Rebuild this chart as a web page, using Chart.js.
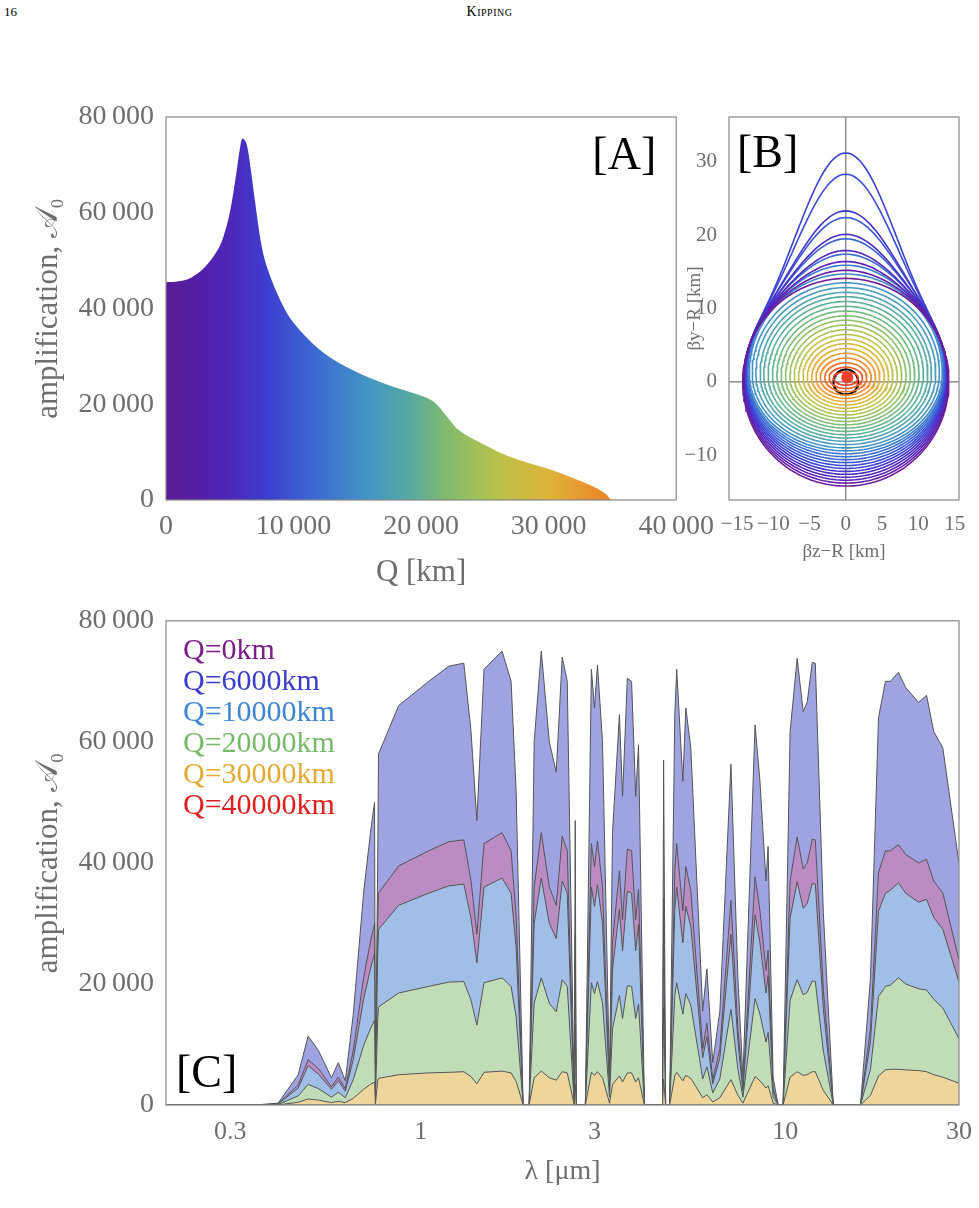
<!DOCTYPE html>
<html><head><meta charset="utf-8">
<script src="https://cdn.jsdelivr.net/npm/chart.js@4"></script>
<style>
body{margin:0;background:#fff;width:979px;height:1208px;position:relative;overflow:hidden;font-family:"Liberation Serif",serif;}
canvas{position:absolute;}
#pg{position:absolute;left:4px;top:4px;font-size:13px;}
#hd{position:absolute;left:0;width:979px;top:4px;text-align:center;font-size:14px;font-variant:small-caps;letter-spacing:0.5px;}
</style></head><body>
<div id="pg">16</div><div id="hd">Kipping</div>
<div style="position:absolute;left:680px;top:95px;width:310px;height:500px"><canvas id="cB"></canvas></div>
<div style="position:absolute;left:0;top:95px;width:716px;height:500px"><canvas id="cA"></canvas></div>
<div style="position:absolute;left:0;top:600px;width:979px;height:592px"><canvas id="cC"></canvas></div>
<script>
// ---------- Panel A data ----------
const Qkm =  [0,1000,2000,3000,4000,4500,5000,5500,5800,6000,6300,6600,7000,7500,8000,9000,10000,12000,14000,16000,18000,20000,21000,22000,23000,25000,27000,30000,32000,33500,34500,35000,40000];
const ampA = [45500,45700,46500,48500,52000,55000,60000,68000,73500,75500,74500,70000,62000,53000,48000,41500,37000,31500,28000,25500,23500,21800,20500,17500,14500,11500,9000,6500,4500,2800,1200,0,0];
const xTicksA = [0,10000,20000,30000,40000];
const yTicks = [0,20000,40000,60000,80000];
// ---------- Panel B data ----------
const contourBottom = [-14.2,-13.8,-13.4,-13.0,-12.6,-12.2,-11.8,-11.4,-11.0,-10.6,-10.2,-9.8,-9.4,
  -9.0,-8.55,-8.1,-7.65,-7.2,-6.75,-6.3,-5.85,-5.4,-4.95,-4.5,-4.05,-3.6,-3.15,-2.7,-2.25,-1.8,-1.35,-0.9,-0.45];
const contourTop = [14.1,15.2,16.4,17.9,20.1,23.3,31.2,28.3,22.4,19.5,17.4,15.9,14.7,
  13.5,12.85,12.2,11.6,10.95,10.3,9.65,9.0,8.4,7.75,7.1,6.45,5.8,5.2,4.55,3.9,3.25,2.6,2.0,1.35];
const contourHalfWidth = [14.2,14.15,14.1,14.05,14.0,13.95,13.9,13.85,13.8,13.7,13.6,13.5,13.3,
  12.9,12.4,11.8,11.3,10.7,10.1,9.5,8.9,8.3,7.7,7.1,6.5,5.9,5.3,4.7,4.1,3.5,2.9,2.3,1.7];
const contourMid = [0,0.15,0.3,0.45,0.6,0.75,0.9,1.0,1.1,1.15,1.2,1.2,1.2,
  1.15,1.1,1.05,1.0,0.95,0.9,0.85,0.8,0.75,0.7,0.68,0.66,0.64,0.62,0.6,0.6,0.6,0.6,0.6,0.6];
const contourColor = ['#6a1b9a','#6420a8','#5a24b4','#5028bc','#4a2ec4','#4336cc','#3c42d4','#3a4cd6','#3958d6','#3a64d4','#3b70d2','#3d7cd0','#4088cc',
  '#4592c6','#4a9bbd','#50a3b2','#57aaa6','#5fb09a','#68b58e','#73b982','#80bd76','#8ec06b','#9dc261','#adc357','#bdc24e','#ccbf46','#d9b83f','#e3ad3a','#ea9e35','#ee8c31','#ef762e','#ec5f2c','#e8462a'];
const bTicksX = [-15,-10,-5,0,5,10,15];
const bTicksY = [-10,0,10,20,30];
// ---------- Panel C data ----------
const lam = [0.2,0.35,0.406,0.461,0.491,0.524,0.569,0.594,0.621,0.653,0.697,0.728,0.747,0.751,0.762,0.766,0.870,1.052,1.194,1.313,1.373,1.426,1.492,1.672,1.770,1.827,1.862,1.910,1.984,2.048,2.142,2.254,2.355,2.445,2.524,2.606,2.638,2.655,2.67,2.83,2.94,2.998,3.055,3.154,3.297,3.36,3.51,3.58,3.69,3.79,3.89,3.96,4.11,4.61,4.64,4.70,4.82,4.98,5.04,5.24,5.34,5.51,5.83,5.94,6.10,6.33,6.62,7.10,7.42,7.66,8.27,8.53,8.86,8.98,9.27,9.57,9.87,10.32,10.79,11.21,11.50,11.87,12.10,12.73,13.56,16.10,17.15,18.04,18.85,19.45,20.46,21.41,23.24,24.44,25.57,27.09,29.98];
const ampQ6000 = [0,0,300,5000,11400,9000,4500,7000,4000,15000,35000,45000,50000,3000,40000,58000,66000,70000,72500,73000,62000,47000,72000,75000,70000,52000,30000,0,0,60000,75000,60000,55000,74000,70000,20000,0,47000,0,0,72000,65600,72700,60000,4500,45000,64500,51000,70500,70000,51000,59500,0,0,57000,0,0,64500,72000,53500,65600,59000,26500,15500,22500,7000,15500,56300,21000,4500,62800,53500,37000,42700,4500,0,0,61700,73800,65000,66600,73100,73000,31800,0,0,21000,64000,70000,70000,71500,69000,66500,67700,61700,59000,40000];
const ampQ0    = [0,0,200,3300,7500,6000,3000,4600,2700,9000,21000,27000,30000,1800,30000,35000,39500,42000,43500,43800,37200,28200,43200,45000,42000,31200,18000,0,0,36000,45000,36000,33000,44400,42000,12000,0,28200,0,0,43200,39400,43600,36000,2700,27000,38700,30600,42300,42000,30600,35700,0,0,34200,0,0,38700,43200,32100,39400,35400,15900,9300,13500,4200,9300,33800,12600,2700,37700,32100,22200,25600,2700,0,0,37000,44300,39000,40000,43900,43800,19100,0,0,12600,38400,42000,42000,43000,41400,40000,40600,37000,35000,24000];
const ampQ10000= [0,0,150,2800,6500,5100,2600,4000,2300,7500,17500,22500,25000,1500,25000,29000,33000,35000,36200,36500,31000,23500,36000,37500,35000,26000,15000,0,0,30000,37500,30000,27500,37000,35000,10000,0,23500,0,0,36000,32800,36400,30000,2300,22500,32300,25500,35300,35000,25500,29800,0,0,28500,0,0,32300,36000,26800,32800,29500,13300,7800,11300,3500,7800,28200,10500,2300,31400,26800,18500,21400,2300,0,0,30900,36900,32500,33300,36600,36500,15900,0,0,10500,32000,35000,35500,36700,35000,33500,34000,31000,29000,20400];
const ampQ20000= [0,0,80,1500,3400,2700,1300,2100,1200,4200,9800,12600,14000,800,14000,16200,18500,19600,20300,20400,17400,13200,20200,21000,19600,14600,8400,0,0,16800,21000,16800,15400,20700,19600,5600,0,13200,0,0,20200,18400,20400,16800,1300,12600,18100,14300,19700,19600,14300,16700,0,0,16000,0,0,18100,20200,15000,18400,16500,7400,4300,6300,2000,4300,15800,5900,1300,17600,15000,10400,12000,1300,0,0,17300,20700,18200,18600,20500,20400,8900,0,0,5900,17900,19600,19800,21000,20000,19200,19000,17500,16000,11000];
const ampQ30000= [0,0,20,450,1000,800,400,600,400,1100,2600,3400,3800,200,4000,4400,5000,5300,5400,5500,4700,3500,5400,5600,5300,3900,2300,0,0,4500,5600,4500,4100,5500,5300,1500,0,3500,0,0,5400,4900,5500,4500,300,3400,4800,3800,5300,5300,3800,4500,0,0,4300,0,0,4800,5400,4000,4900,4400,2000,1200,1700,500,1200,4200,1600,300,4700,4000,2800,3200,300,0,0,4600,5500,4900,5000,5500,5500,2400,0,0,1600,4800,5800,5900,5900,5800,5700,5500,5000,4600,3600];
const ampQ40000= lam.map(()=>0);
const legendLabels = ['Q=0km','Q=6000km','Q=10000km','Q=20000km','Q=30000km','Q=40000km'];
const legendColors = ['#7b1e88','#3a3ccc','#3f85d4','#78b96a','#e3aa35','#e0201e'];
const xTicksC = [0.3,1,3,10,30];

// ---------- helpers ----------
const SERIF = '"Liberation Serif","DejaVu Serif",serif';
const GRAY = '#6e6e6e';
const fmt = v => { const s = String(Math.round(v)); return s.length>4 ? s.slice(0,-3)+'\u2009'+s.slice(-3) : s; };
const minus = v => String(v).replace('-','\u2212');
const frame = {id:'frame', afterDatasetsDraw(ch,a,o){const c=ch.ctx,ar=ch.chartArea;c.save();c.strokeStyle='#888';c.lineWidth=1.2;c.strokeRect(ar.left,ar.top,ar.right-ar.left,ar.bottom-ar.top);
  if(o.label){c.fillStyle='#000';c.font='46px '+SERIF;c.textBaseline='alphabetic';c.textAlign=o.align;c.fillText(o.label,o.lx(ar),o.ly(ar));}
  if(o.legend){c.font='30px '+SERIF;c.textAlign='left';o.legend.forEach((t,i)=>{c.fillStyle=legendColors[i];c.fillText(t,ar.left+17,ar.top+38+i*31);});}
  c.restore();}};

// ---------- Chart A ----------
new Chart(document.getElementById('cA'),{type:'line',
 data:{datasets:[{data:Qkm.map((q,i)=>({x:q,y:ampA[i]})),borderWidth:0,pointRadius:0,tension:0.35,fill:'origin',
   backgroundColor:(ctx)=>{const ar=ctx.chart.chartArea;if(!ar)return '#44f';const g=ctx.chart.ctx.createLinearGradient(ar.left,0,ar.right,0);
     [[0,'#5a1a95'],[0.12,'#4d25b8'],[0.2,'#3d3fd0'],[0.3,'#3c6dd2'],[0.4,'#4596c4'],[0.48,'#57aa9f'],[0.55,'#80bb6e'],[0.65,'#b9c24a'],[0.75,'#dfb43a'],[0.85,'#ea8a2a'],[1,'#ef5a22']].forEach(s=>g.addColorStop(s[0],s[1]));return g;}}]},
 options:{responsive:true,maintainAspectRatio:false,animation:false,layout:{padding:{top:22,right:24,left:26,bottom:0}},
  plugins:{legend:{display:false},tooltip:{enabled:false},frame:{label:'[A]',align:'right',lx:ar=>ar.right-20,ly:ar=>ar.top+52}},
  scales:{x:{type:'linear',min:0,max:40000,afterFit:s=>{s.height=95;},afterBuildTicks:s=>{s.ticks=xTicksA.map(v=>({value:v}));},
     grid:{display:false},border:{display:false},ticks:{color:GRAY,font:{family:SERIF,size:28},maxRotation:0,padding:2,callback:fmt},
     title:{display:true,text:'Q [km]',color:GRAY,font:{family:SERIF,size:31},padding:{top:4}}},
   y:{min:0,max:80000,afterFit:s=>{s.width=140;},afterBuildTicks:s=>{s.ticks=yTicks.map(v=>({value:v}));},
     grid:{display:false},border:{display:false},ticks:{color:GRAY,font:{family:SERIF,size:28},padding:4,callback:fmt},
     title:{display:true,text:'amplification, 𝒜₀',color:GRAY,font:{family:SERIF,size:31},padding:{bottom:4}}}}},
 plugins:[frame]});

// ---------- Chart B ----------
function contour(i){
  const bot=contourBottom[i], top=contourTop[i], w=contourHalfWidth[i], mid=contourMid[i];
  const a = Math.min(1, w/(top-mid));
  const pts=[];
  for(let k=0;k<=200;k++){const t=k/200*2*Math.PI;const c=Math.cos(t),s=Math.sin(t);
    const y = c<0 ? mid+(mid-bot)*c : mid+(top-mid)*(a*c+(1-a)*Math.pow(c,6));
    pts.push({x:w*s,y:y});}
  return pts;}
const bSets = contourBottom.map((b,i)=>({type:'line',data:contour(i),borderColor:contourColor[i],borderWidth:1.6,pointRadius:0,fill:false,tension:0}));
bSets.push({type:'scatter',data:[{x:0.2,y:0.6}],backgroundColor:'#e8402a',pointRadius:6,borderWidth:0});
bSets.push({type:'line',data:Array.from({length:101},(_,k)=>({x:1.7*Math.sin(k/50*Math.PI),y:1.7*Math.cos(k/50*Math.PI)})),borderColor:'#000',borderWidth:2,pointRadius:0,fill:false});
bSets.push({type:'line',data:[{x:-16.1,y:0},{x:15.6,y:0}],borderColor:'#777',borderWidth:1.2,pointRadius:0});
bSets.push({type:'line',data:[{x:0,y:-16.1},{x:0,y:36.1}],borderColor:'#777',borderWidth:1.2,pointRadius:0});
new Chart(document.getElementById('cB'),{type:'line',data:{datasets:bSets},
 options:{responsive:true,maintainAspectRatio:false,animation:false,layout:{padding:{top:22,right:31,left:0,bottom:28}},
  plugins:{legend:{display:false},tooltip:{enabled:false},frame:{label:'[B]',align:'left',lx:ar=>ar.left+8,ly:ar=>ar.top+50}},
  scales:{x:{type:'linear',min:-16.1,max:15.6,afterFit:s=>{s.height=67;},afterBuildTicks:s=>{s.ticks=bTicksX.map(v=>({value:v}));},
     grid:{display:false},border:{display:false},ticks:{color:GRAY,font:{family:SERIF,size:21},maxRotation:0,autoSkip:false,padding:4,callback:minus},
     title:{display:true,text:'βz−R [km]',color:GRAY,font:{family:SERIF,size:19},padding:{top:2}}},
   y:{min:-16.1,max:36.1,afterFit:s=>{s.width=49;},afterBuildTicks:s=>{s.ticks=bTicksY.map(v=>({value:v}));},
     grid:{display:false},border:{display:false},ticks:{color:GRAY,font:{family:SERIF,size:21},padding:4,callback:minus},
     title:{display:true,text:'βy−R [km]',color:GRAY,font:{family:SERIF,size:19},padding:{bottom:0}}}}},
 plugins:[frame]});

// ---------- Chart C ----------
const mk=(arr,bg,ord)=>({data:lam.map((l,i)=>({x:l,y:arr[i]})),backgroundColor:bg,borderColor:'#555',borderWidth:1,pointRadius:0,fill:'origin',tension:0,order:ord});
new Chart(document.getElementById('cC'),{type:'line',
 data:{datasets:[mk(ampQ6000,'#9fa3e1',6),mk(ampQ0,'#bb8cc3',5),mk(ampQ10000,'#a1bee6',4),mk(ampQ20000,'#c1ddb8',3),mk(ampQ30000,'#eed59b',2),mk(ampQ40000,'rgba(0,0,0,0)',1)]},
 options:{responsive:true,maintainAspectRatio:false,animation:false,layout:{padding:{top:15,right:20,left:26,bottom:0}},
  plugins:{legend:{display:false},tooltip:{enabled:false},frame:{label:'[C]',align:'left',lx:ar=>ar.left+10,ly:ar=>ar.bottom-18,legend:legendLabels}},
  scales:{x:{type:'logarithmic',min:0.2,max:30,afterFit:s=>{s.height=87;},afterBuildTicks:s=>{s.ticks=xTicksC.map(v=>({value:v}));},
     grid:{display:false},border:{display:false},ticks:{color:GRAY,font:{family:SERIF,size:26},maxRotation:0,autoSkip:false,padding:4,callback:v=>String(v)},
     title:{display:true,text:'λ [μm]',color:GRAY,font:{family:SERIF,size:28},padding:{top:2}}},
   y:{min:0,max:80000,afterFit:s=>{s.width=140;},afterBuildTicks:s=>{s.ticks=yTicks.map(v=>({value:v}));},
     grid:{display:false},border:{display:false},ticks:{color:GRAY,font:{family:SERIF,size:28},padding:4,callback:fmt},
     title:{display:true,text:'amplification, 𝒜₀',color:GRAY,font:{family:SERIF,size:31},padding:{bottom:4}}}}},
 plugins:[frame]});
</script></body></html>
